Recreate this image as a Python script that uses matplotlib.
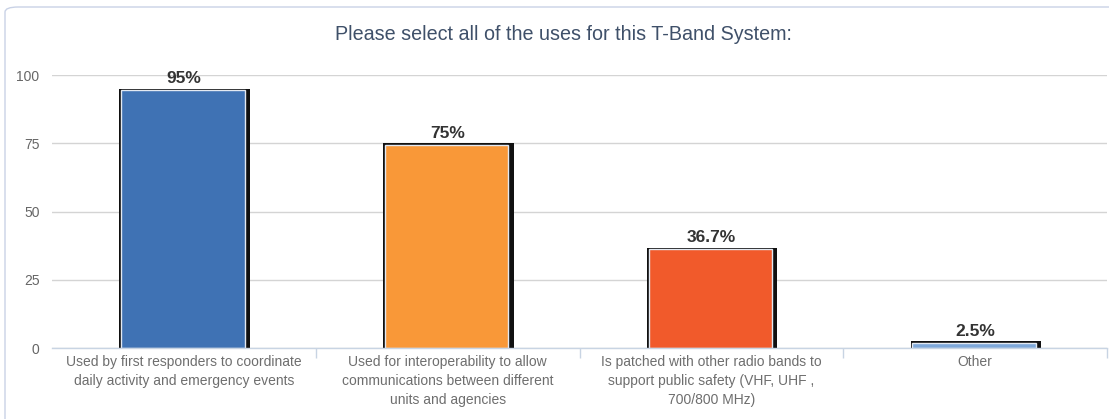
import matplotlib
matplotlib.use("Agg")
import matplotlib.pyplot as plt
from matplotlib.patches import FancyBboxPatch
import numpy as np

plt.rcParams['font.family'] = ['Liberation Sans', 'DejaVu Sans']

title = "Please select all of the uses for this T-Band System:"
categories = [
    "Used by first responders to coordinate\ndaily activity and emergency events",
    "Used for interoperability to allow\ncommunications between different\nunits and agencies",
    "Is patched with other radio bands to\nsupport public safety (VHF, UHF ,\n700/800 MHz)",
    "Other",
]
values = [95, 75, 36.7, 2.5]
value_labels = ["95%", "75%", "36.7%", "2.5%"]
colors = ["#3f72b4", "#f99838", "#f15a2b", "#7ea8da"]
yticks = [0, 25, 50, 75, 100]

W, H = 1109, 419
fig = plt.figure(figsize=(W / 100, H / 100), dpi=100)

# rounded frame
frame = FancyBboxPatch((5 / W, -20 / H), (W + 20) / W, (H - 7 + 20) / H,
                       boxstyle="round,pad=0,rounding_size=0.012",
                       transform=fig.transFigure, facecolor="none",
                       edgecolor="#c9d2e6", linewidth=1.0, zorder=-1)
fig.patches.append(frame)

ax = fig.add_axes([52 / W, (H - 348) / H, (1107 - 52) / W, (348 - 75) / H])
ax.set_facecolor("none")
x = np.arange(len(values))

# black shadow/border bars
ax.bar(x + 0.003, values, width=0.495, color="#111111", zorder=3, linewidth=0)
# coloured bars with light inner edge
inner = [v - 0.55 for v in values]
ax.bar(x - 0.004, inner, bottom=0, width=0.468, color=colors,
       edgecolor="#e3e9f2", linewidth=1.0, zorder=4)

for xi, v, lab in zip(x, values, value_labels):
    ax.text(xi, v + 0.9, lab, ha="center", va="bottom", fontsize=12.5,
            fontweight="bold", color="#333333", zorder=5)

ax.set_xlim(-0.5, len(values) - 0.5)
ax.set_ylim(0, 100)
ax.set_yticks(yticks)
ax.set_yticklabels([str(t) for t in yticks], color="#666666", fontsize=10)
ax.tick_params(axis="y", length=0, pad=9)
ax.grid(axis="y", color="#d4d4d4", linewidth=1.0, zorder=1)

ax.set_xticks(x)
ax.set_xticklabels(categories, color="#6e6e6e", fontsize=10, linespacing=1.45)
ax.tick_params(axis="x", which="major", length=0, pad=5)
ax.set_xticks(np.arange(len(values)) + 0.5, minor=True)
ax.tick_params(axis="x", which="minor", length=7, color="#c8d4e3", width=1)

for s in ["top", "right", "left"]:
    ax.spines[s].set_visible(False)
ax.spines["bottom"].set_color("#c8d4e3")
ax.spines["bottom"].set_linewidth(1.0)
ax.spines["bottom"].set_zorder(6)

fig.text(563 / W, 1 - 35 / H, title, ha="center", va="center",
         fontsize=14.2, color="#3f5069")

fig.savefig("out.png", dpi=100)
